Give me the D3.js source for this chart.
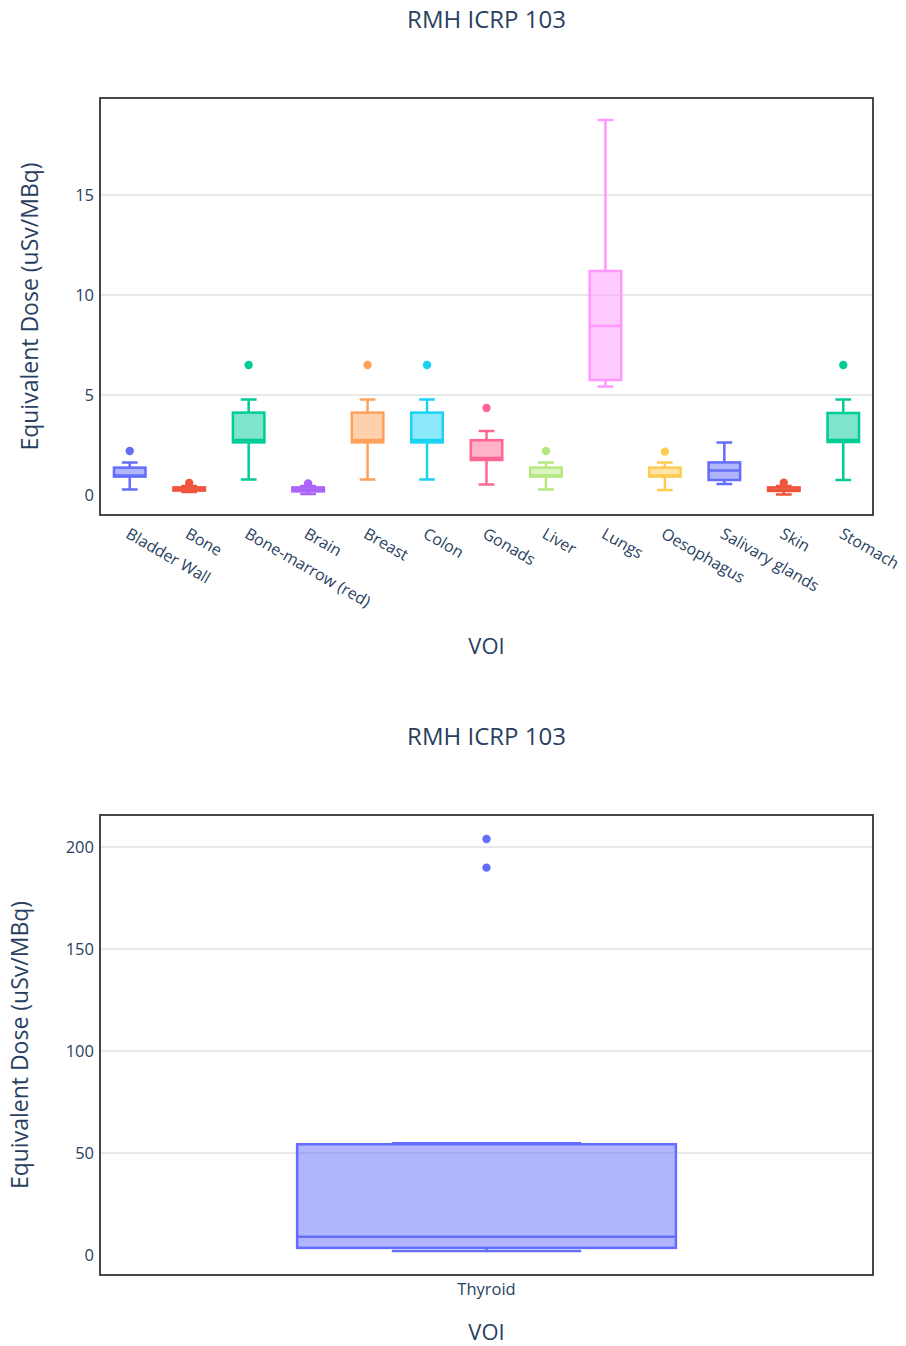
<!DOCTYPE html>
<html>
<head>
<meta charset="utf-8">
<script src="https://cdn.jsdelivr.net/npm/d3@7"></script>
<style>
  body { margin: 0; background: #fff; }
  text { font-family: "Open Sans", sans-serif; fill: #2a3f5f; }
</style>
</head>
<body>
<div id="chart"></div>
<script>
  // top chart: one box per VOI
  const voiTop = ['Bladder Wall', 'Bone', 'Bone-marrow (red)', 'Brain', 'Breast', 'Colon', 'Gonads',
    'Liver', 'Lungs', 'Oesophagus', 'Salivary glands', 'Skin', 'Stomach'];
  const loTop  = [0.27, 0.15, 0.77, 0.05, 0.77, 0.77, 0.52, 0.27, 5.42, 0.25, 0.55, 0.03, 0.75];
  const q1Top  = [0.92, 0.22, 2.63, 0.18, 2.63, 2.63, 1.75, 0.92, 5.75, 0.92, 0.75, 0.2, 2.65];
  const medTop = [0.98, 0.28, 2.75, 0.27, 2.75, 2.75, 1.85, 0.98, 8.45, 0.98, 1.22, 0.27, 2.75];
  const q3Top  = [1.37, 0.38, 4.12, 0.38, 4.12, 4.12, 2.74, 1.37, 11.2, 1.37, 1.63, 0.38, 4.1];
  const hiTop  = [1.62, 0.45, 4.78, 0.45, 4.78, 4.78, 3.2, 1.62, 18.75, 1.62, 2.63, 0.45, 4.78];
  const outTop = [[2.2], [0.6], [6.5], [0.58], [6.5], [6.5], [4.35], [2.2], [], [2.17], [], [0.62], [6.5]];
  const ticksTop = [0, 5, 10, 15];

  // bottom chart: thyroid only
  const voiBottom = ['Thyroid'];
  const loBottom  = [2.0];
  const q1Bottom  = [3.5];
  const medBottom = [9.0];
  const q3Bottom  = [54.3];
  const hiBottom  = [54.8];
  const outBottom = [[189.9, 203.9]];
  const ticksBottom = [0, 50, 100, 150, 200];

  const colors = ['#636efa', '#EF553B', '#00cc96', '#ab63fa', '#FFA15A', '#19d3f3',
    '#FF6692', '#B6E880', '#FF97FF', '#FECB52'];

  const W = 906, H = 1346;
  const svg = d3.select('#chart').append('svg')
    .attr('width', W).attr('height', H);

  function drawChart(cfg) {
    let {cats, lo, q1, med, q3, hi, out, ticks, domain, top, bottom, boxFrac, rotate, titleY, ylabX, xlabY} = cfg;
    let left = 100, right = 873;

    let x = d3.scaleBand().domain(cats).range([left, right]).padding(0);
    let y = d3.scaleLinear().domain(domain).range([bottom, top]);
    let g = svg.append('g');

    // title
    g.append('text')
      .attr('x', (left + right) / 2).attr('y', titleY)
      .attr('text-anchor', 'middle')
      .style('font-size', '24px')
      .text('RMH ICRP 103');

    // grid (no line at zero)
    g.append('g').selectAll('line')
      .data(ticks.filter(t => t != 0))
      .join('line')
      .attr('x1', left).attr('x2', right)
      .attr('y1', d => y(d)).attr('y2', d => y(d))
      .attr('stroke', '#e2e2e2').attr('stroke-width', 1.5);

    // y ticks
    let yAxis = g.append('g')
      .attr('transform', `translate(${left},0)`)
      .call(d3.axisLeft(y).tickValues(ticks).tickSize(0).tickPadding(6));
    yAxis.select('.domain').remove();
    yAxis.selectAll('text').style('font-size', '16.5px').attr('fill', '#3b4f6e');

    // x ticks
    let xAxis = g.append('g')
      .attr('transform', `translate(0,${bottom})`)
      .call(d3.axisBottom(x).tickSize(0));
    xAxis.select('.domain').remove();
    xAxis.selectAll('text').style('font-size', '16px').attr('fill', '#3b4f6e');
    if (rotate) {
      xAxis.selectAll('text')
        .attr('text-anchor', 'start')
        .attr('x', 0).attr('y', 0).attr('dy', null)
        .attr('transform', 'translate(-5,22) rotate(30)');
    } else {
      xAxis.selectAll('text').style('font-size', '16.5px').attr('y', 20).attr('dy', null);
    }

    // boxes
    let bw = x.bandwidth() * boxFrac;
    cats.forEach((c, i) => {
      let col = colors[i % colors.length];
      let cx = x(c) + x.bandwidth() / 2;
      let bg = g.append('g');
      bg.append('path')
        .attr('d', `M${cx},${y(q3[i])}V${y(hi[i])}M${cx - bw / 4},${y(hi[i])}H${cx + bw / 4}` +
          `M${cx},${y(q1[i])}V${y(lo[i])}M${cx - bw / 4},${y(lo[i])}H${cx + bw / 4}`)
        .attr('stroke', col).attr('stroke-width', 2.5).attr('fill', 'none');
      bg.append('rect')
        .attr('x', cx - bw / 2).attr('width', bw)
        .attr('y', y(q3[i])).attr('height', y(q1[i]) - y(q3[i]))
        .attr('fill', col).attr('fill-opacity', 0.5)
        .attr('stroke', col).attr('stroke-width', 2.5);
      bg.append('line')
        .attr('x1', cx - bw / 2).attr('x2', cx + bw / 2)
        .attr('y1', y(med[i])).attr('y2', y(med[i]))
        .attr('stroke', col).attr('stroke-width', 2.5);
      bg.selectAll('circle')
        .data(out[i])
        .join('circle')
        .attr('cx', cx).attr('cy', d => y(d)).attr('r', 4.2)
        .attr('fill', col);
    });

    // frame
    g.append('rect')
      .attr('x', left).attr('y', top)
      .attr('width', right - left).attr('height', bottom - top)
      .attr('fill', 'none').attr('stroke', '#333').attr('stroke-width', 1.8);

    // axis titles
    g.append('text')
      .attr('x', (left + right) / 2).attr('y', xlabY)
      .attr('text-anchor', 'middle')
      .style('font-size', '22px')
      .text('VOI');
    g.append('text')
      .attr('transform', `translate(${ylabX},${(top + bottom) / 2}) rotate(-90)`)
      .attr('text-anchor', 'middle')
      .style('font-size', '23px')
      .text('Equivalent Dose (uSv/MBq)');
  }

  drawChart({
    cats: voiTop, lo: loTop, q1: q1Top, med: medTop, q3: q3Top, hi: hiTop, out: outTop,
    ticks: ticksTop, domain: [-1, 19.85], top: 98, bottom: 515, boxFrac: 0.53, rotate: true,
    titleY: 28, ylabX: 38, xlabY: 654
  });

  drawChart({
    cats: voiBottom, lo: loBottom, q1: q1Bottom, med: medBottom, q3: q3Bottom, hi: hiBottom, out: outBottom,
    ticks: ticksBottom, domain: [-9.8, 215.7], top: 815, bottom: 1275, boxFrac: 0.49, rotate: false,
    titleY: 745, ylabX: 28, xlabY: 1340
  });
</script>
</body>
</html>
